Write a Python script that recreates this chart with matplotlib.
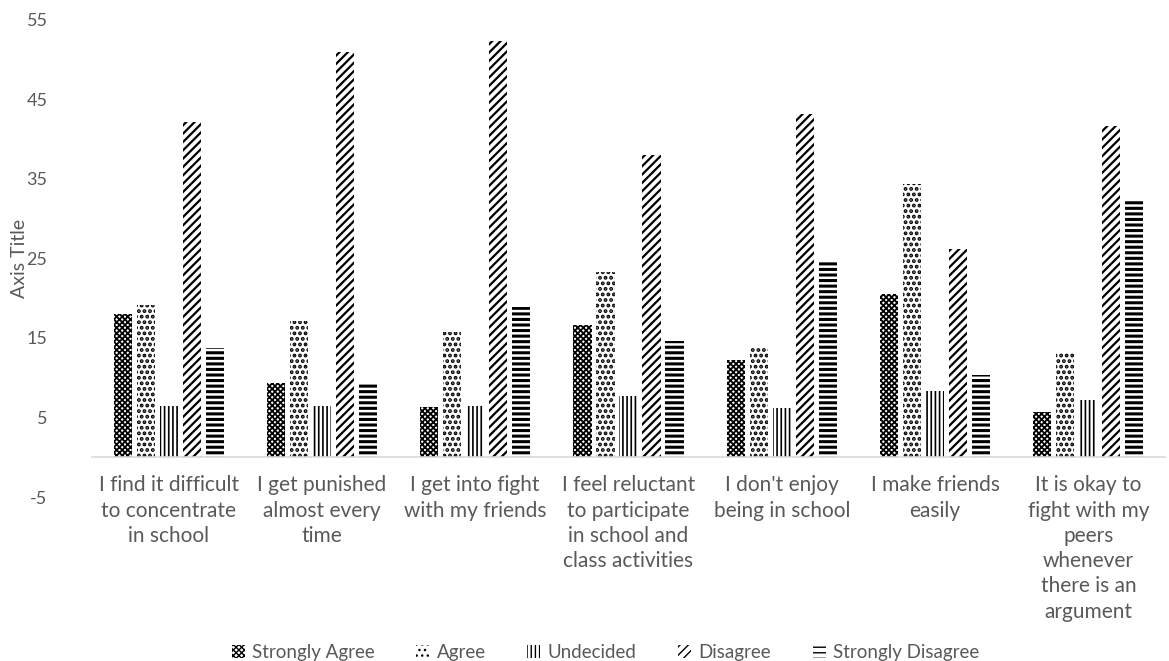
import matplotlib
matplotlib.use("Agg")
import matplotlib.pyplot as plt
import numpy as np

categories = [
    "I find it difficult\nto concentrate\nin school",
    "I get punished\nalmost every\ntime",
    "I get into fight\nwith my friends",
    "I feel reluctant\nto participate\nin school and\nclass activities",
    "I don't enjoy\nbeing in school",
    "I make friends\neasily",
    "It is okay to\nfight with my\npeers\nwhenever\nthere is an\nargument",
]
series_names = ["Strongly Agree", "Agree", "Undecided", "Disagree", "Strongly Disagree"]
strongly_agree = [18.0, 9.3, 6.3, 16.6, 12.2, 20.5, 5.7]
agree = [19.2, 17.1, 15.8, 23.3, 13.8, 34.3, 13.2]
undecided = [6.4, 6.4, 6.4, 7.7, 6.2, 8.3, 7.2]
disagree = [42.1, 51.0, 52.3, 38.0, 43.1, 26.2, 41.6]
strongly_disagree = [13.7, 9.4, 18.9, 14.6, 24.7, 10.3, 32.5]
y_ticks = [-5, 5, 15, 25, 35, 45, 55]

series = [strongly_agree, agree, undecided, disagree, strongly_disagree]
hatches = ["xxxxxx", "...", "||||", "////", "---"]
hatch_lws = [1.3, 1.9, 1.2, 1.6, 2.2]

text_color = "#595959"
plt.rcParams["font.family"] = ["Lato", "DejaVu Sans"]
plt.rcParams["axes.unicode_minus"] = False

fig = plt.figure(figsize=(11.69, 6.61), dpi=100)
ax = fig.add_axes([0.0787, 0.248, 0.9179, 0.722])

x = np.arange(len(categories))
bar_w = 0.118
step = 0.15
offsets = (np.arange(len(series)) - 2) * step

handles = []
for vals, name, h, hlw, off in zip(series, series_names, hatches, hatch_lws, offsets):
    with plt.rc_context({"hatch.linewidth": hlw}):
        bars = ax.bar(x + off, vals, width=bar_w, facecolor="white",
                      edgecolor="black", linewidth=0, hatch=h, label=name)
        for b in bars:
            try:
                b.set_hatch_linewidth(hlw)
            except AttributeError:
                pass
    handles.append(bars)

ax.set_xlim(-0.5, len(categories) - 0.5)
ax.set_ylim(-5, 55)
ax.set_yticks(y_ticks)
ax.set_xticks(x)
ax.set_xticklabels(categories)

for s in ["top", "right", "left"]:
    ax.spines[s].set_visible(False)
ax.spines["bottom"].set_position(("data", 0))
ax.spines["bottom"].set_color("#d9d9d9")
ax.spines["bottom"].set_linewidth(1.2)
ax.tick_params(axis="x", length=0, pad=13, labelsize=15, labelcolor=text_color)
ax.tick_params(axis="y", length=0, pad=32, labelsize=13, labelcolor=text_color)
for lbl in ax.get_xticklabels():
    lbl.set_linespacing(1.33)

ax.set_ylabel("Axis Title", fontsize=14, color=text_color)
ax.yaxis.set_label_coords(-0.060, 0.5)

leg = fig.legend(handles=handles, labels=series_names, loc="lower center",
                 bbox_to_anchor=(0.518, -0.025), ncol=5, frameon=False,
                 fontsize=13.5, handlelength=0.7, handleheight=0.7,
                 handletextpad=0.4, columnspacing=2.2)
for t in leg.get_texts():
    t.set_color(text_color)

fig.savefig("out.png", dpi=100)
